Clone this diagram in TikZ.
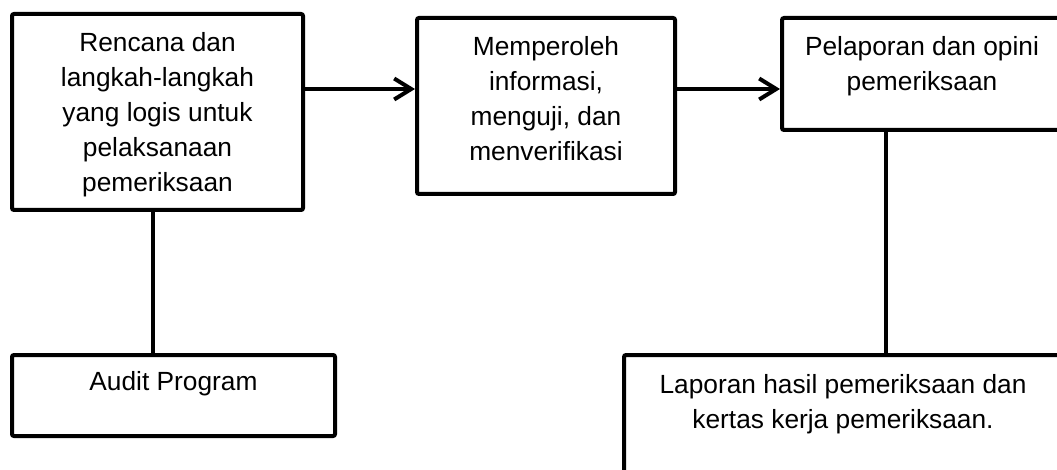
\documentclass[tikz,border=0pt]{standalone}
\usepackage{fontspec}
\setmainfont{Liberation Sans}
\usetikzlibrary{arrows.meta}
\begin{document}
\begin{tikzpicture}[x=1pt,y=-1pt,
  box/.style={draw=black,line width=4pt,rounded corners=2pt,inner sep=0pt},
  txt/.style={anchor=north,align=center,inner sep=0pt,text=black,font=\fontsize{26.3}{35}\selectfont},
  link/.style={draw=black,line width=4pt},
  arr/.style={draw=black,line width=4pt,-{Straight Barb[length=17pt,width=21pt]}}]
\useasboundingbox[fill=white] (0,0) rectangle (1057,470);
\clip (0,0) rectangle (1057,470);
\node[box,minimum width=291pt,minimum height=196pt] (b1) at (157.5,112) {};
\node[box,minimum width=258pt,minimum height=176pt] (b2) at (546,106) {};
\node[box,minimum width=280pt,minimum height=112pt] (b3) at (922,74) {};
\node[box,minimum width=323pt,minimum height=81pt] (b4) at (173.5,395.5) {};
\node[box,minimum width=438pt,minimum height=145pt] (b5) at (843,427.5) {};
\node[txt] (t1) at (157.5,32) {Rencana dan\\langkah-langkah\\yang logis untuk\\pelaksanaan\\pemeriksaan};
\node[txt] (t2) at (546,36) {Memperoleh\\informasi,\\menguji, dan\\menverifikasi};
\node[txt] (t3) at (922,36) {Pelaporan dan opini\\pemeriksaan};
\node[txt] (t4) at (173.5,371) {Audit Program};
\node[txt] (t5) at (843,374) {Laporan hasil pemeriksaan dan\\kertas kerja pemeriksaan.};
\draw[link] ([xshift=-4.5pt]b1.south) -- ([xshift=-4.5pt]b1.south |- b4.north);
\draw[arr] ([yshift=23pt]b1.east) -- ([yshift=23pt]b1.east -| b2.west);
\draw[arr] ([yshift=17pt]b2.east) -- ([yshift=17pt]b2.east -| b3.west);
\draw[link] ([xshift=-36pt]b3.south) -- ([xshift=-36pt]b3.south |- b5.north);
\end{tikzpicture}
\end{document}
